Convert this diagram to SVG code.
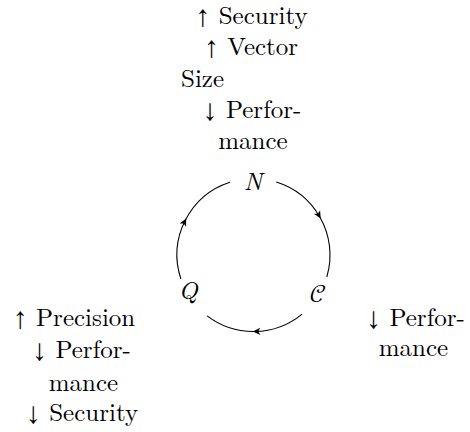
<svg xmlns="http://www.w3.org/2000/svg" width="470" height="432" viewBox="0 0 470 432">
<defs>
<style>
text{font-size:25px;fill:#000}
.m{text-anchor:middle}
.it{font-style:italic}
.arc{fill:none;stroke:#000;stroke-width:1.1;marker-mid:url(#ah)}
</style>
<marker id="ah" markerWidth="14" markerHeight="14" viewBox="-9 -7 14 14" refX="0" refY="0" orient="auto" markerUnits="userSpaceOnUse">
<path d="M2,0 L-5.5,-3.6 L-3.5,0 L-5.5,3.6 Z" fill="#000"/>
</marker>
</defs>
<rect width="470" height="432" fill="#fff"/>
<g id="connectors">
<path class="arc" d="M276.3,182 A76.5,76.5 0 0 1 319.7,216.75 A76.5,76.5 0 0 1 326.8,277"/>
<path class="arc" d="M302.1,314.1 A76.5,76.5 0 0 1 254.8,331.5 A76.5,76.5 0 0 1 207.1,315.9"/>
<path class="arc" d="M180.9,279 A76.5,76.5 0 0 1 185.3,220.3 A76.5,76.5 0 0 1 229.9,182.2"/>
</g>
<g font-family="Latin Modern Roman">
<g id="node-N"><text class="m it" x="253" y="190">N</text></g>
<g id="node-Q"><text class="m it" x="188" y="299">Q</text></g>
<g id="node-C"><text class="m" x="318" y="302" font-family="Latin Modern Math">𝒞</text></g>
<g id="label-N">
<text class="m" x="251.5" y="24"><tspan font-family="Liberation Serif" font-size="30" dy="2">↑</tspan><tspan dy="-2"> Security</tspan></text>
<text class="m" x="251" y="55"><tspan font-family="Liberation Serif" font-size="30" dy="2">↑</tspan><tspan dy="-2"> Vector</tspan></text>
<text x="181" y="86.5">Size</text>
<text class="m" x="252" y="118"><tspan font-family="Liberation Serif" font-size="30" dy="2">↓</tspan><tspan dy="-2"> Perfor-</tspan></text>
<text class="m" x="253" y="148.5">mance</text>
</g>
<g id="label-Q">
<text class="m" x="74" y="326"><tspan font-family="Liberation Serif" font-size="30" dy="2">↑</tspan><tspan dy="-2"> Precision</tspan></text>
<text class="m" x="81.5" y="358"><tspan font-family="Liberation Serif" font-size="30" dy="2">↓</tspan><tspan dy="-2"> Perfor-</tspan></text>
<text class="m" x="83.5" y="390.5">mance</text>
<text class="m" x="82" y="421"><tspan font-family="Liberation Serif" font-size="30" dy="2">↓</tspan><tspan dy="-2"> Security</tspan></text>
</g>
<g id="label-C">
<text class="m" x="415.5" y="326"><tspan font-family="Liberation Serif" font-size="30" dy="2">↓</tspan><tspan dy="-2"> Perfor-</tspan></text>
<text class="m" x="413.5" y="355.5">mance</text>
</g>
</g>
</svg>
